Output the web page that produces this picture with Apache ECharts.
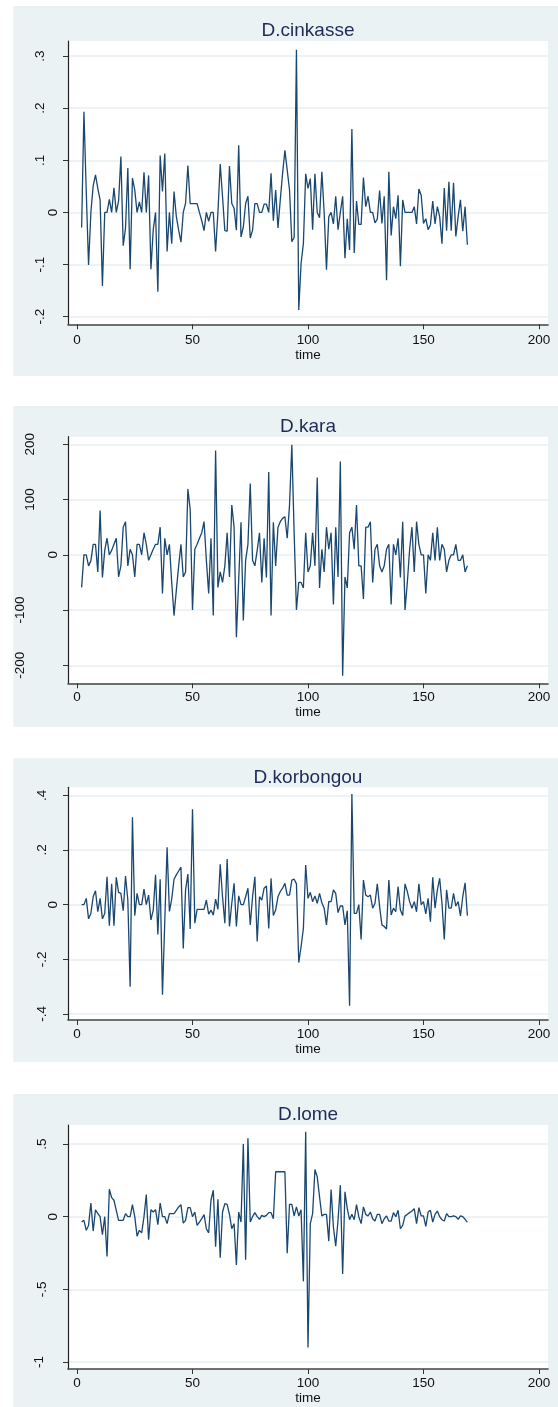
<!DOCTYPE html>
<html>
<head>
<meta charset="utf-8">
<script src="https://cdn.jsdelivr.net/npm/echarts@6/dist/echarts.min.js"></script>
<style>
  html, body { margin: 0; padding: 0; background: #fff; }
  #chart { width: 558px; height: 1407px; }
</style>
</head>
<body>
<div id="chart"></div>
<script>
// First differences of four price series, observed at time = 2 … 169
const time = Array.from({ length: 168 }, (_, i) => i + 2);

const cinkasse = [
  -0.029, 0.193, 0.04, -0.101, 0.0, 0.051, 0.072, 0.046, 0.024, -0.141,
  0.0, 0.0, 0.025, 0.0, 0.047, 0.0, 0.022, 0.107, -0.064, -0.03,
  0.085, -0.109, 0.066, 0.043, 0.0, 0.02, 0.0, 0.077, 0.0, 0.071,
  -0.109, -0.033, 0.0, -0.152, 0.109, 0.04, 0.113, -0.075, 0.0, -0.06,
  0.04, -0.008, -0.034, -0.057, 0.0, 0.018, 0.09, 0.017, 0.017, 0.017,
  0.017, 0.0, -0.016, -0.035, 0.0, -0.017, 0.0, 0.0, -0.075, 0.0,
  0.093, 0.03, -0.035, -0.036, 0.089, 0.017, 0.008, -0.034, 0.129, -0.047,
  -0.028, 0.017, 0.031, -0.049, -0.034, 0.017, 0.017, 0.0, 0.0, 0.016,
  0.016, 0.0, 0.075, -0.016, 0.043, -0.03, 0.024, 0.075, 0.119, 0.081,
  0.043, -0.056, -0.048, 0.312, -0.187, -0.098, -0.06, 0.074, 0.046, 0.065,
  -0.033, 0.074, 0.0, -0.01, 0.078, 0.0, -0.11, -0.008, 0.0, -0.022,
  0.031, -0.033, 0.0, 0.031, -0.088, -0.012, -0.072, 0.16, -0.078, 0.022,
  -0.023, -0.023, 0.067, 0.011, 0.031, 0.0, 0.0, -0.02, -0.013, 0.042,
  -0.021, 0.031, -0.13, 0.078, -0.044, 0.011, -0.012, 0.033, -0.103, 0.024,
  0.0, 0.0, 0.0, 0.0, 0.011, -0.022, 0.045, 0.033, -0.021, -0.012,
  -0.033, -0.024, 0.022, -0.022, 0.011, -0.008, -0.06, 0.047, -0.035, 0.059,
  -0.035, 0.057, -0.046, -0.008, 0.024, -0.036, 0.011, -0.062
];

const kara = [
  -59, 0, 0, -20, -11, 19, 19, -31, 80, -41,
  8, 30, 0, 8, 19, 30, -40, -20, 50, 60,
  -20, 10, 0, -40, 19, 19, 0, 40, 19, -10,
  0, 10, 19, 19, 50, -70, 30, 0, 19, -50,
  -110, -64, -20, 19, -40, -31, 119, 82, -100, 10,
  19, 30, 40, 60, -10, -70, 30, -110, 189, -59,
  -31, -50, -20, 40, -40, 90, 50, -149, -45, 59,
  -119, -10, 19, 129, -10, -20, 8, 40, -50, 30,
  -41, 150, -110, 59, -20, 50, 60, 66, 69, 30,
  90, 199, 40, -100, -50, -50, -60, 40, -31, -20,
  40, -20, 140, -60, 10, -31, 50, 10, 40, -90,
  50, -40, 169, -219, -40, -60, 40, 50, 10, 90,
  -20, -20, -80, 50, 50, 60, -50, 10, 19, -20,
  -31, -20, 10, 19, -90, 19, 0, 30, -41, 60,
  -100, -50, 10, 50, -31, 60, 19, 0, 0, -70,
  0, -10, 40, -10, 50, -10, 19, 10, -31, -10,
  0, 0, 19, -10, -10, 0, -31, -20
];

const korbongou = [
  0, 0, 0.023, -0.052, -0.032, 0.029, 0.051, -0.026, 0.023, -0.052,
  -0.032, 0.102, -0.077, 0.076, -0.077, 0.1, 0.045, 0.041, -0.022, 0.105,
  0.017, -0.3, 0.32, -0.04, 0.041, 0, 0, 0.057, 0, 0.035,
  -0.056, -0.02, 0.109, -0.109, 0.093, -0.33, -0.06, 0.21, -0.025, 0.02,
  0.093, 0.109, 0.123, 0.137, -0.16, 0.054, 0.112, -0.089, 0.349, -0.068,
  -0.017, -0.017, -0.017, -0.017, 0.017, -0.035, -0.02, -0.038, 0.02, -0.017,
  0.148, 0.029, -0.068, 0.167, -0.08, 0.005, 0.078, -0.08, 0.032, 0,
  0, 0.029, 0.06, -0.074, 0.029, 0.102, -0.135, 0.029, 0.017, 0.06,
  0.068, -0.087, 0.096, -0.04, -0.02, 0.029, 0.048, 0.06, 0.078, 0.035,
  0.035, 0.09, 0.093, 0.076, -0.212, -0.154, -0.087, 0.145, 0.023, 0.045,
  0.011, 0.032, 0.005, 0.041, 0.007, -0.013, -0.074, 0.011, 0.011, 0.054,
  0.041, -0.029, -0.005, -0.005, -0.074, -0.022, -0.37, 0.405, -0.032, -0.032,
  0, -0.127, 0.09, 0.035, 0.029, 0.035, -0.013, 0.005, 0.076, -0.007,
  -0.074, -0.08, -0.089, 0.09, -0.038, -0.013, -0.026, 0.066, -0.02, -0.04,
  0.076, 0.048, 0.011, -0.013, 0.011, -0.026, 0.076, 0, 0.011, -0.034,
  0.023, -0.062, 0.1, -0.013, 0.054, 0.096, 0.005, -0.127, 0.054, -0.013,
  -0.013, 0.041, -0.005, 0.011, -0.041, 0.029, 0.08, -0.04
];

const lome = [
  -0.037, -0.025, -0.094, -0.06, 0.094, -0.099, 0.048, 0.021, 0, -0.124,
  0, -0.274, 0.189, 0.131, 0.113, 0.044, -0.025, -0.025, -0.025, 0.021,
  0, 0, 0.083, 0, -0.134, -0.094, -0.111, 0, 0.152, -0.159,
  0.048, 0.032, 0.048, -0.055, 0.094, 0, 0, -0.048, 0.021, 0.021,
  0.021, 0.044, 0.067, 0.083, -0.044, -0.025, 0.062, 0.062, 0, 0.032,
  -0.06, -0.037, -0.014, 0.014, -0.083, -0.111, 0.113, 0.182, -0.207, 0.12,
  -0.283, 0.032, 0.09, 0.085, 0.016, -0.083, -0.048, -0.332, 0.032, -0.037,
  0.5, -0.297, 0.539, -0.037, 0, 0.028, 0, -0.018, 0.009, 0,
  0.009, 0.028, 0.028, -0.014, 0.309, 0.309, 0.309, 0.309, 0.309, -0.251,
  0.085, 0.085, 0.005, 0.067, 0.005, 0.048, -0.445, 0.585, -0.9, -0.048,
  0.021, 0.325, 0.274, 0.136, 0.005, 0.016, 0.016, -0.168, 0.187, -0.071,
  -0.203, -0.025, 0.217, -0.394, 0.171, 0.055, -0.021, 0.016, -0.021, 0.083,
  0, -0.048, 0.067, 0.016, 0.005, 0.032, -0.014, -0.03, 0.016, 0.016,
  -0.048, -0.014, 0.005, -0.03, -0.03, 0.028, 0, 0.044, -0.083, -0.06,
  0.005, 0.016, 0.028, 0.039, 0.055, -0.048, 0.062, 0.005, 0.005, -0.067,
  0.032, 0.044, -0.037, 0.016, 0.039, 0, -0.021, -0.03, 0.021, 0,
  0, 0.005, 0, -0.018, 0.005, 0, -0.018, -0.037
];

const titles = ['D.cinkasse', 'D.kara', 'D.korbongou', 'D.lome'];
const xTicks = [0, 50, 100, 150, 200];
const yTicksCinkasse = [-0.2, -0.1, 0, 0.1, 0.2, 0.3];
const yTicksKara = [-200, -100, 0, 100, 200];
const yTicksKorbongou = [-0.4, -0.2, 0, 0.2, 0.4];
const yTicksLome = [-1, -0.5, 0, 0.5];

const seriesValues = [cinkasse, kara, korbongou, lome];
const yTicks = [yTicksCinkasse, yTicksKara, yTicksKorbongou, yTicksLome];

// Panel geometry (pixels) and axis extents
const panels = [
  { bg: [6, 376],      top: 41,    height: 283.3, titleY: 30.5,  yMin: -0.2146, yMax: 0.3288,
    xMargin: 9, nameGap: 21, yPad: { '0': 0, _: 12.5 } },
  { bg: [406, 726.7],  top: 436.7, height: 246.6, titleY: 426.7, yMin: -232.6,  yMax: 213.8,
    xMargin: 7, nameGap: 17, yPad: { '0': 0, '200': 23, '100': 23, '-100': 33, '-200': 33 } },
  { bg: [758.3, 1061.7], top: 787.3, height: 232.7, titleY: 777.7, yMin: -0.422, yMax: 0.4293,
    xMargin: 7, nameGap: 16.5, yPad: { '0': 0, _: 10.5 } },
  { bg: [1094, 1407],  top: 1125,  height: 244,   titleY: 1114.3, yMin: -1.048, yMax: 0.6308,
    xMargin: 7, nameGap: 17, yPad: { '0': 0, '.5': 11, '-.5': 11, '-1': 14 } }
];

const PLOT_LEFT = 68, PLOT_WIDTH = 480;
const FONT = '"Liberation Sans", Arial, Helvetica, sans-serif';
const LINE_COLOR = '#1a476f';
const PANEL_BG = '#eaf2f3';
const TEXT = '#111111';

// Stata-style number labels: ".3", "-.1", "0", "200"
function stataLabel(v) {
  const s = String(+(+v).toFixed(6));
  return s.replace(/^(-?)0\./, '$1.');
}

const option = {
  animation: false,
  backgroundColor: '#ffffff',
  graphic: panels.map(p => ({
    type: 'rect',
    silent: true,
    z: -10,
    shape: { x: 13.3, y: p.bg[0], width: 558 - 13.3, height: p.bg[1] - p.bg[0] },
    style: { fill: PANEL_BG }
  })),
  title: panels.map((p, i) => ({
    text: titles[i],
    left: PLOT_LEFT + PLOT_WIDTH / 2,
    top: p.titleY,
    padding: 0,
    textAlign: 'center',
    textVerticalAlign: 'middle',
    textStyle: { fontFamily: FONT, fontSize: 19, fontWeight: 'normal', color: '#1e2b58' }
  })),
  grid: panels.map(p => ({
    left: PLOT_LEFT, top: p.top, width: PLOT_WIDTH, height: p.height,
    show: true, backgroundColor: '#ffffff', borderWidth: 0
  })),
  xAxis: panels.map((p, i) => ({
    type: 'value', gridIndex: i, min: -3.9, max: 203.9,
    name: 'time', nameLocation: 'middle', nameGap: p.nameGap,
    nameTextStyle: { fontFamily: FONT, fontSize: 13.5, color: TEXT },
    axisLine: { show: true, onZero: false, lineStyle: { color: '#444', width: 1.6 } },
    axisTick: { show: true, length: 5, customValues: xTicks, lineStyle: { color: '#333', width: 1 } },
    axisLabel: { customValues: xTicks, margin: p.xMargin, fontFamily: FONT, fontSize: 13.5, color: TEXT,
      formatter: v => stataLabel(v) },
    splitLine: { show: false }
  })),
  yAxis: panels.map((p, i) => {
    const pads = {};
    yTicks[i].forEach(t => {
      const s = stataLabel(t);
      pads[s] = (s in p.yPad) ? p.yPad[s] : p.yPad._;
    });
    const rich = {};
    Object.keys(pads).forEach((s, k) => {
      rich['r' + k] = { fontFamily: FONT, fontSize: 13.5, color: TEXT, padding: [0, 0, pads[s], 0] };
    });
    const keys = Object.keys(pads);
    return {
      type: 'value', gridIndex: i, min: p.yMin, max: p.yMax,
      axisLine: { show: true, onZero: false, lineStyle: { color: '#222', width: 1.2 } },
      axisTick: { show: true, length: 5, customValues: yTicks[i], lineStyle: { color: '#333', width: 1 } },
      axisLabel: {
        customValues: yTicks[i], rotate: 90, margin: 8,
        fontFamily: FONT, fontSize: 13.5, color: TEXT,
        formatter: v => {
          const s = stataLabel(v);
          return '{r' + keys.indexOf(s) + '|' + s + '}';
        },
        rich
      },
      splitLine: { show: true, lineStyle: { color: '#e8f0f2', width: 1.5 } }
    };
  }),
  series: seriesValues.map((vals, i) => ({
    type: 'line', xAxisIndex: i, yAxisIndex: i,
    showSymbol: false, symbol: 'none',
    lineStyle: { color: LINE_COLOR, width: 1.3 },
    data: time.map((t, k) => [t, vals[k]])
  }))
};

const chart = echarts.init(document.getElementById('chart'), null, { renderer: 'canvas' });
chart.setOption(option);
</script>
</body>
</html>
